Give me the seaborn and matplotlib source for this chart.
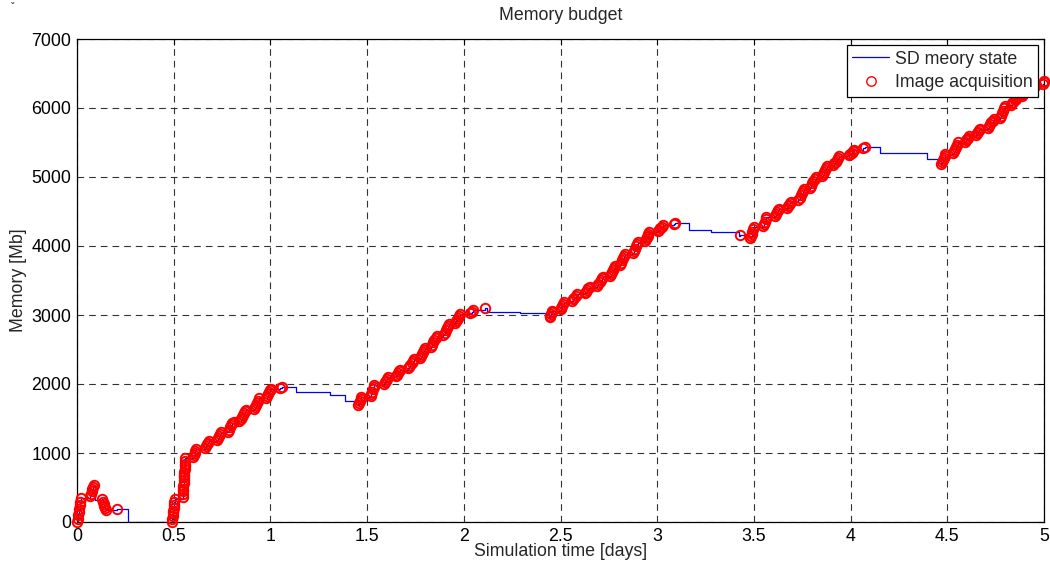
import numpy as np
import pandas as pd
import matplotlib
matplotlib.use("Agg")
import matplotlib.pyplot as plt
import seaborn as sns

# ---------------- data ----------------
# image acquisitions: time [days], memory [Mb]
seg0_t = [0.000, 0.003, 0.006, 0.009, 0.012, 0.015, 0.018, 0.020,
          0.068, 0.072, 0.076, 0.080, 0.084, 0.088,
          0.130, 0.134, 0.138, 0.142, 0.146, 0.150,
          0.207]
seg0_m = [0, 45, 95, 140, 190, 240, 290, 345,
          375, 410, 445, 475, 505, 535,
          330, 295, 260, 230, 200, 170,
          192]

segA_t = [0.490, 0.492, 0.494, 0.496, 0.498, 0.500, 0.502, 0.504, 0.506,
          0.546, 0.547, 0.548, 0.549, 0.550, 0.551, 0.552, 0.553, 0.554, 0.555,
          0.556, 0.557, 0.558, 0.559, 0.560,
          0.600, 0.604, 0.608, 0.612, 0.616,
          0.660, 0.665, 0.670, 0.675, 0.680,
          0.722, 0.728, 0.734, 0.740, 0.746,
          0.780, 0.786, 0.792, 0.798, 0.804, 0.810,
          0.840, 0.846, 0.852, 0.858, 0.864, 0.870, 0.876,
          0.915, 0.920, 0.925, 0.930, 0.935, 0.940,
          0.975, 0.980, 0.986, 0.992, 0.998, 1.004,
          1.050, 1.058]
segA_m = [0, 40, 80, 125, 165, 205, 250, 295, 340,
          365, 405, 445, 485, 525, 565, 605, 645, 685, 725,
          765, 805, 845, 885, 925,
          945, 975, 1005, 1035, 1065,
          1075, 1100, 1125, 1150, 1175,
          1185, 1215, 1245, 1275, 1300,
          1310, 1340, 1370, 1400, 1430, 1455,
          1465, 1495, 1525, 1555, 1580, 1605, 1630,
          1640, 1670, 1700, 1730, 1760, 1790,
          1800, 1830, 1860, 1885, 1910, 1930,
          1942, 1952]

segB_t = [1.455, 1.459, 1.463, 1.467, 1.471,
          1.518, 1.522, 1.526, 1.530, 1.534, 1.538,
          1.586, 1.591, 1.596, 1.601, 1.606,
          1.648, 1.653, 1.658, 1.663, 1.668,
          1.712, 1.718, 1.724, 1.730, 1.736, 1.742,
          1.772, 1.777, 1.782, 1.787, 1.792, 1.797,
          1.830, 1.836, 1.842, 1.848, 1.854, 1.860,
          1.895, 1.901, 1.907, 1.913, 1.919, 1.925,
          1.957, 1.962, 1.967, 1.972, 1.977, 1.982,
          2.032, 2.040, 2.048,
          2.110]
segB_m = [1700, 1725, 1750, 1778, 1805,
          1825, 1858, 1890, 1922, 1955, 1985,
          2000, 2025, 2050, 2075, 2100,
          2112, 2137, 2162, 2187, 2210,
          2225, 2250, 2278, 2305, 2332, 2360,
          2375, 2405, 2435, 2465, 2495, 2525,
          2540, 2572, 2604, 2636, 2668, 2700,
          2712, 2744, 2776, 2808, 2840, 2870,
          2882, 2908, 2934, 2960, 2985, 3010,
          3030, 3050, 3070,
          3105]

segC_t = [2.445, 2.448, 2.451, 2.454, 2.457,
          2.500, 2.505, 2.510, 2.515, 2.520,
          2.560, 2.566, 2.572, 2.578, 2.584,
          2.626, 2.632, 2.638, 2.644, 2.650,
          2.690, 2.696, 2.702, 2.708, 2.714, 2.720,
          2.755, 2.760, 2.765, 2.770, 2.775, 2.780,
          2.810, 2.815, 2.820, 2.825, 2.830, 2.835,
          2.874, 2.879, 2.884, 2.889, 2.894, 2.899,
          2.935, 2.940, 2.945, 2.950, 2.955, 2.960,
          3.002, 3.009, 3.016, 3.023, 3.030,
          3.085, 3.093]
segC_m = [2965, 2990, 3015, 3040, 3062,
          3080, 3108, 3135, 3162, 3190,
          3202, 3227, 3252, 3277, 3300,
          3312, 3337, 3362, 3387, 3410,
          3425, 3451, 3477, 3503, 3529, 3555,
          3570, 3599, 3628, 3657, 3686, 3715,
          3730, 3760, 3790, 3820, 3850, 3880,
          3893, 3927, 3961, 3995, 4029, 4060,
          4072, 4098, 4124, 4150, 4176, 4200,
          4215, 4236, 4257, 4278, 4300,
          4318, 4330]

segD_t = [3.430,
          3.480, 3.484, 3.488, 3.492, 3.496, 3.500,
          3.545, 3.550, 3.555, 3.560, 3.565,
          3.610, 3.615, 3.620, 3.625, 3.630,
          3.670, 3.675, 3.680, 3.685, 3.690,
          3.730, 3.736, 3.742, 3.748, 3.754, 3.760,
          3.790, 3.796, 3.802, 3.808, 3.814, 3.820,
          3.850, 3.856, 3.862, 3.868, 3.874, 3.880,
          3.910, 3.916, 3.922, 3.928, 3.934, 3.940,
          3.990, 3.998, 4.006, 4.014, 4.020,
          4.066, 4.074]
segD_m = [4162,
          4120, 4150, 4180, 4210, 4240, 4270,
          4290, 4322, 4355, 4388, 4420,
          4440, 4465, 4490, 4515, 4540,
          4552, 4574, 4596, 4618, 4640,
          4670, 4702, 4734, 4766, 4798, 4830,
          4842, 4874, 4906, 4938, 4970, 5000,
          5015, 5044, 5073, 5102, 5131, 5160,
          5172, 5198, 5224, 5250, 5276, 5300,
          5318, 5336, 5354, 5372, 5390,
          5415, 5430]

segE_t = [4.470, 4.474, 4.478, 4.482, 4.486, 4.490,
          4.530, 4.535, 4.540, 4.545, 4.550, 4.555,
          4.590, 4.595, 4.600, 4.605, 4.610,
          4.650, 4.655, 4.660, 4.665, 4.670,
          4.710, 4.716, 4.722, 4.728, 4.734, 4.740,
          4.770, 4.776, 4.782, 4.788, 4.794, 4.800,
          4.830, 4.836, 4.842, 4.848, 4.854, 4.860,
          4.885, 4.890, 4.895, 4.900, 4.905,
          4.940, 4.945, 4.950, 4.955, 4.960,
          4.995, 4.998, 5.000]
segE_m = [5190, 5218, 5246, 5274, 5302, 5330,
          5345, 5376, 5407, 5438, 5469, 5500,
          5512, 5532, 5552, 5572, 5592,
          5610, 5632, 5654, 5676, 5700,
          5715, 5740, 5765, 5790, 5815, 5840,
          5855, 5890, 5925, 5960, 5995, 6030,
          6045, 6068, 6091, 6114, 6137, 6160,
          6175, 6196, 6217, 6238, 6260,
          6272, 6286, 6300, 6315, 6330,
          6350, 6370, 6390]

# downlink steps of the memory state (time [days], memory after downlink [Mb])
downlink_t = [0.094, 0.265, 1.130, 1.310, 1.385, 1.452, 2.120, 2.290, 2.440,
              3.165, 3.280, 3.425, 3.476, 4.150, 4.393, 4.465]
downlink_m = [320, 0, 1890, 1840, 1760, 1690, 3050, 3035, 2960,
              4225, 4207, 4145, 4110, 5350, 5260, 5180]

x_ticks = [0, 0.5, 1, 1.5, 2, 2.5, 3, 3.5, 4, 4.5, 5]
x_tick_labels = ["0", "0.5", "1", "1.5", "2", "2.5", "3", "3.5", "4", "4.5", "5"]
y_ticks = [0, 1000, 2000, 3000, 4000, 5000, 6000, 7000]
y_tick_labels = ["0", "1000", "2000", "3000", "4000", "5000", "6000", "7000"]

title = "Memory budget"
x_label = "Simulation time [days]"
y_label = "Memory [Mb]"
line_label = "SD meory state"
acq_label = "Image acquisition"

# ---------------- build tables ----------------
acq = pd.DataFrame({
    "t": seg0_t + segA_t + segB_t + segC_t + segD_t + segE_t,
    "m": seg0_m + segA_m + segB_m + segC_m + segD_m + segE_m,
})
dl = pd.DataFrame({"t": downlink_t, "m": downlink_m})
state = pd.concat([acq, dl]).sort_values("t", kind="stable").reset_index(drop=True)
state = pd.concat([state, pd.DataFrame({"t": [5.2], "m": [state["m"].iloc[-1]]})],
                  ignore_index=True)

# ---------------- style ----------------
sns.set_style("white")
plt.rcParams["font.family"] = ["Liberation Sans", "DejaVu Sans"]
FS = 12.8

fig = plt.figure(figsize=(10.5, 5.7), dpi=100)
ax = fig.add_axes([77 / 1050, 48 / 570, 967 / 1050, 483 / 570])

sns.lineplot(data=state, x="t", y="m", ax=ax, estimator=None, sort=False,
             drawstyle="steps-post", color="#0000FF", linewidth=0.9,
             label=line_label)
sns.lineplot(data=acq, x="t", y="m", ax=ax, estimator=None, sort=False,
             linestyle="", marker="o", markersize=6.8, markerfacecolor="none",
             markeredgecolor="#FF0000", markeredgewidth=1.4, color="#FF0000",
             label=acq_label, clip_on=False, zorder=3)

ax.set_xlim(0, 5)
ax.set_ylim(0, 7000)
ax.set_xticks(x_ticks)
ax.set_xticklabels(x_tick_labels)
ax.set_yticks(y_ticks)
ax.set_yticklabels(y_tick_labels)
ax.tick_params(direction="in", length=4, width=0.8, top=True, right=True,
               labelsize=FS, colors="black", pad=4)
ax.grid(True, color="0.2", linestyle=(0, (6, 4.5)), linewidth=0.8)
for s in ax.spines.values():
    s.set_visible(True)
    s.set_color("black")
    s.set_linewidth(0.9)

ax.set_title(title, fontsize=FS, pad=14)
ax.set_xlabel(x_label, fontsize=FS, labelpad=-1)
ax.set_ylabel(y_label, fontsize=FS, labelpad=3)

leg = ax.legend(loc="upper right", fontsize=FS, frameon=True, fancybox=False,
                framealpha=1, edgecolor="black", borderaxespad=0.35,
                handletextpad=0.3, handlelength=2.1, borderpad=0.3,
                labelspacing=0.38)
leg.get_frame().set_linewidth(0.9)
leg.set_zorder(10)
for lh in leg.get_lines():
    lh.set_markeredgewidth(1.0)

fig.text(13 / 1050, 1 - 8 / 570, "ˇ", fontsize=8, ha="center", va="center",
         family=["DejaVu Sans"])

fig.savefig("out.png", dpi=100)
